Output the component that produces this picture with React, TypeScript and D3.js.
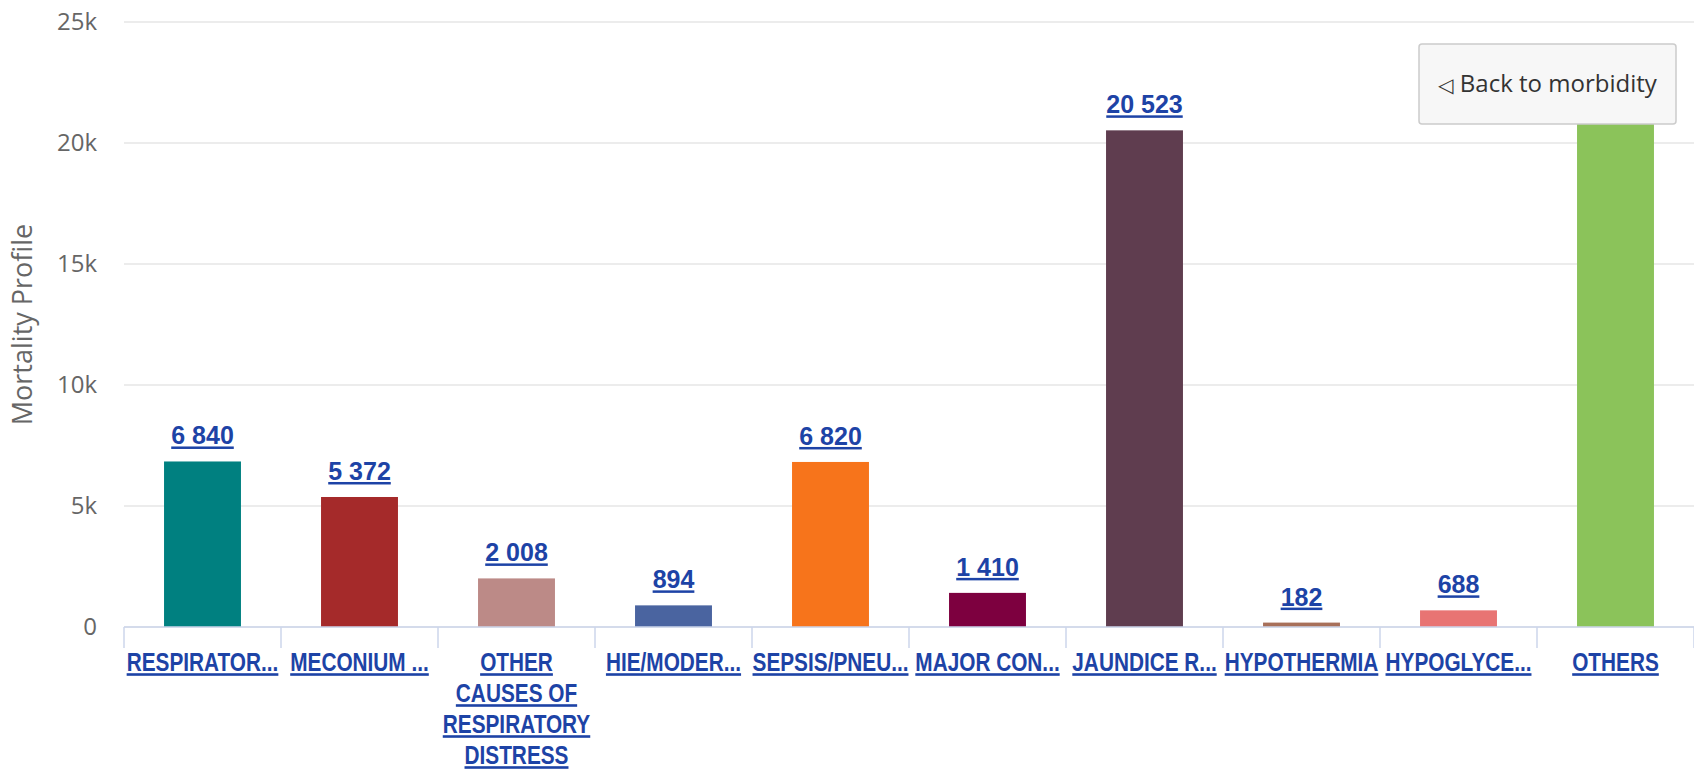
import React, { useEffect, useRef } from "react";
import * as d3 from "d3";

// displayed (truncated) category labels, "\n" marks a wrapped line
const categories = [
  "RESPIRATOR...",
  "MECONIUM ...",
  "OTHER\nCAUSES OF\nRESPIRATORY\nDISTRESS",
  "HIE/MODER...",
  "SEPSIS/PNEU...",
  "MAJOR CON...",
  "JAUNDICE R...",
  "HYPOTHERMIA",
  "HYPOGLYCE...",
  "OTHERS",
];
const values = [6840, 5372, 2008, 894, 6820, 1410, 20523, 182, 688, 22000];
const colors = [
  "#008080",
  "#a52a2a",
  "#bc8a87",
  "#4a64a0",
  "#f7741b",
  "#7d003f",
  "#5f3d4f",
  "#a8705a",
  "#e87473",
  "#8bc35a",
];
const yTicks = [0, 5000, 10000, 15000, 20000, 25000];
const yTitle = "Mortality Profile";
const buttonText = "Back to morbidity";

function App() {
  const ref = useRef<SVGSVGElement>(null);
  const width = 1694;
  const height = 770;
  const marginTop = 22;
  const marginLeft = 124;
  const marginRight = 0;
  const axisY = 627;

  useEffect(() => {
    const svg = d3.select(ref.current);
    svg.selectAll("*").remove();

    const x = d3
      .scaleBand<number>()
      .domain(d3.range(categories.length))
      .range([marginLeft, width - marginRight]);

    const xBar = d3
      .scaleBand<number>()
      .domain(d3.range(categories.length))
      .range([marginLeft, width - marginRight])
      .paddingInner(0.51)
      .paddingOuter(0.255);

    const y = d3.scaleLinear().domain([0, 25000]).range([axisY, marginTop]);

    const locale = d3.formatLocale({
      decimal: ".",
      thousands: " ",
      grouping: [3],
      currency: ["", ""],
    });
    const fmt = locale.format(",");
    const tickFmt = (v: number) => (v === 0 ? "0" : `${v / 1000}k`);

    // drill-up button box (drawn last, but needed to hide covered labels)
    const bx = 1419;
    const by = 44;
    const bw = 257;
    const bh = 80;

    // grid lines + y labels
    const yg = svg.append("g");
    yg.selectAll("line")
      .data(yTicks)
      .join("line")
      .attr("x1", marginLeft)
      .attr("x2", width - marginRight)
      .attr("y1", (d) => y(d))
      .attr("y2", (d) => y(d))
      .attr("stroke", "#e6e6e6")
      .attr("stroke-width", 1.5);
    yg.selectAll("text")
      .data(yTicks)
      .join("text")
      .attr("x", 97)
      .attr("y", (d) => y(d))
      .attr("dy", "0.35em")
      .attr("text-anchor", "end")
      .attr("fill", "#666666")
      .attr("font-family", "'Open Sans', 'Noto Sans', sans-serif")
      .attr("font-size", 24)
      .text((d) => tickFmt(d));

    svg
      .append("text")
      .attr("transform", `translate(32,${(y(0) + y(25000)) / 2}) rotate(-90)`)
      .attr("text-anchor", "middle")
      .attr("fill", "#666666")
      .attr("font-family", "'Open Sans', 'Noto Sans', sans-serif")
      .attr("font-size", 27)
      .text(yTitle);

    // bars
    svg
      .append("g")
      .selectAll("rect")
      .data(values)
      .join("rect")
      .attr("x", (_, i) => xBar(i) as number)
      .attr("width", xBar.bandwidth())
      .attr("y", (d) => y(d))
      .attr("height", (d) => y(0) - y(d))
      .attr("fill", (_, i) => colors[i]);

    // data labels (the one hidden behind the button is left out)
    const labelData = values
      .map((v, i) => ({ v, i }))
      .filter(({ v, i }) => {
        const cx = (xBar(i) as number) + xBar.bandwidth() / 2;
        const ly = y(v) - 17;
        return !(cx > bx && cx < bx + bw && ly > by && ly < by + bh + 20);
      });
    svg
      .append("g")
      .selectAll("text")
      .data(labelData)
      .join("text")
      .attr("x", (d) => (xBar(d.i) as number) + xBar.bandwidth() / 2)
      .attr("y", (d) => y(d.v) - 17)
      .attr("text-anchor", "middle")
      .attr("fill", "#1d43a6")
      .attr("font-family", "'Liberation Sans', Arial, sans-serif")
      .attr("font-weight", "bold")
      .attr("font-size", 25)
      .style("text-decoration", "underline")
      .text((d) => fmt(d.v));

    // x axis line and tick marks
    svg
      .append("line")
      .attr("x1", marginLeft)
      .attr("x2", width - marginRight)
      .attr("y1", axisY)
      .attr("y2", axisY)
      .attr("stroke", "#ccd6eb")
      .attr("stroke-width", 1.5);
    svg
      .append("g")
      .selectAll("line")
      .data(d3.range(categories.length + 1))
      .join("line")
      .attr("x1", (i) => marginLeft + i * x.step())
      .attr("x2", (i) => marginLeft + i * x.step())
      .attr("y1", axisY)
      .attr("y2", axisY + 21)
      .attr("stroke", "#ccd6eb")
      .attr("stroke-width", 1.5);

    // category labels -- no narrow font installed, so squeeze Liberation Sans
    const cl = svg
      .append("g")
      .selectAll("g")
      .data(categories)
      .join("g")
      .attr(
        "transform",
        (_, i) => `translate(${(x(i) as number) + x.bandwidth() / 2},671) scale(0.8,1)`
      )
      .append("text")
      .attr("text-anchor", "middle")
      .attr("fill", "#1d43a6")
      .attr("font-family", "'Liberation Sans', Arial, sans-serif")
      .attr("font-weight", "bold")
      .attr("font-size", 26)
      .style("text-decoration", "underline");
    cl.each(function (d) {
      const t = d3.select(this);
      d.split("\n").forEach((line, j) => {
        t.append("tspan")
          .attr("x", 0)
          .attr("dy", j === 0 ? 0 : 31)
          .text(line);
      });
    });

    // drill-up button
    const btn = svg.append("g");
    btn
      .append("rect")
      .attr("x", bx)
      .attr("y", by)
      .attr("width", bw)
      .attr("height", bh)
      .attr("rx", 3)
      .attr("fill", "#f7f7f7")
      .attr("stroke", "#cccccc")
      .attr("stroke-width", 1.5);
    const bt = btn
      .append("text")
      .attr("x", bx + bw / 2)
      .attr("y", by + bh / 2)
      .attr("dy", "0.35em")
      .attr("text-anchor", "middle")
      .attr("fill", "#333333")
      .attr("font-family", "'Open Sans', 'Noto Sans', 'DejaVu Sans', sans-serif")
      .attr("font-size", 24);
    bt.append("tspan")
      .attr("font-family", "'DejaVu Sans', sans-serif")
      .attr("font-size", 20)
      .text("\u25C1");
    bt.append("tspan").text(" " + buttonText);
  }, []);

  return (
    <svg
      ref={ref}
      width={width}
      height={height}
      style={{ position: "absolute", left: 0, top: 0, background: "#fff" }}
    ></svg>
  );
}

export default App;
